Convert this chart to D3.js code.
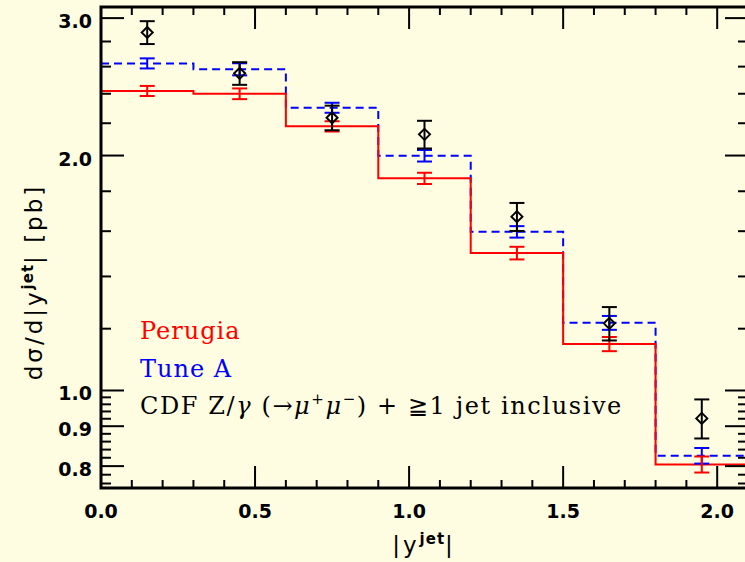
<!DOCTYPE html>
<html><head><meta charset="utf-8">
<script src="https://cdn.jsdelivr.net/npm/d3@7"></script>
<style>
html,body{margin:0;padding:0;background:#fffde1;}
svg{display:block;}
</style></head>
<body>
<svg id="chart" width="745" height="562"></svg>
<script>
// ---- data ----
const binEdges = [0.0, 0.3, 0.6, 0.9, 1.2, 1.5, 1.8, 2.1];
const binCenters = [0.15, 0.45, 0.75, 1.05, 1.35, 1.65, 1.95];
const perugia    = [2.42, 2.40, 2.18, 1.87, 1.50, 1.147, 0.804];
const perugiaErr = [0.036, 0.038, 0.033, 0.031, 0.028, 0.024, 0.019];
const tuneA      = [2.625, 2.58, 2.303, 1.999, 1.597, 1.221, 0.825];
const tuneAErr   = [0.039, 0.046, 0.034, 0.034, 0.027, 0.025, 0.019];
const cdf        = [2.876, 2.549, 2.236, 2.129, 1.670, 1.219, 0.921];
const cdfErr     = [0.097, 0.085, 0.081, 0.087, 0.069, 0.060, 0.053];
const xMajor = [0.0, 0.5, 1.0, 1.5, 2.0];
const xMajorLabels = ["0.0", "0.5", "1.0", "1.5", "2.0"];
const xMinor = [0.1,0.2,0.3,0.4,0.6,0.7,0.8,0.9,1.1,1.2,1.3,1.4,1.6,1.7,1.8,1.9,2.1];
const yMajor = [0.8, 0.9, 1.0, 2.0, 3.0];
const yMajorLabels = ["0.8", "0.9", "1.0", "2.0", "3.0"];
const yMinor = [0.76,0.78,0.82,0.84,0.86,0.88,0.92,0.94,0.96,0.98,1.2,1.4,1.6,1.8,2.2,2.4,2.6,2.8];
const legendItems = ["Perugia", "Tune A"];

// ---- layout ----
const L = 101, R = 748, T = 7, B = 488;
const svg = d3.select("#chart");
svg.append("rect").attr("width",745).attr("height",562).attr("fill","#fffde1");

const x = d3.scaleLinear().domain([0, 2.1]).range([L, R]);
const y = d3.scaleLog().domain([0.75, 3.1]).range([B, T]);

svg.append("defs").append("clipPath").attr("id","clip")
  .append("rect").attr("x",L).attr("y",T).attr("width",R-L).attr("height",B-T);

const plot = svg.append("g").attr("clip-path","url(#clip)");

function stepPts(vals){
  const pts = vals.map((v,i)=>[binEdges[i], v]);
  pts.push([binEdges[binEdges.length-1], vals[vals.length-1]]);
  return pts;
}
const stepLine = d3.line().x(d=>x(d[0])).y(d=>y(d[1])).curve(d3.curveStepAfter);

// Tune A dashed
plot.append("path").attr("d", stepLine(stepPts(tuneA)))
  .attr("fill","none").attr("stroke","#0000ff").attr("stroke-width",2)
  .attr("stroke-dasharray","8,5");
// Perugia solid
plot.append("path").attr("d", stepLine(stepPts(perugia)))
  .attr("fill","none").attr("stroke","#ff0000").attr("stroke-width",2);

function errBars(vals, errs, color, capW){
  const g = plot.append("g").attr("stroke",color).attr("stroke-width",2).attr("fill","none");
  vals.forEach((v,i)=>{
    const cx = x(binCenters[i]);
    const y1 = y(v+errs[i]), y2 = y(v-errs[i]);
    g.append("line").attr("x1",cx).attr("x2",cx).attr("y1",y1).attr("y2",y2);
    g.append("line").attr("x1",cx-capW).attr("x2",cx+capW).attr("y1",y1).attr("y2",y1);
    g.append("line").attr("x1",cx-capW).attr("x2",cx+capW).attr("y1",y2).attr("y2",y2);
  });
}
errBars(tuneA, tuneAErr, "#0000ff", 7.5);
errBars(perugia, perugiaErr, "#ff0000", 7.5);
errBars(cdf, cdfErr, "#000000", 7.5);
// diamonds
plot.append("g").selectAll("path").data(cdf).join("path")
  .attr("d",(d,i)=>{const cx=x(binCenters[i]), cy=y(d), s=5.5;
     return `M${cx},${cy-s}L${cx+s},${cy}L${cx},${cy+s}L${cx-s},${cy}Z`;})
  .attr("fill","none").attr("stroke","#000").attr("stroke-width",2);

// ---- axes ----
const ax = svg.append("g").attr("stroke","#000");
ax.append("rect").attr("x",L).attr("y",T).attr("width",R-L).attr("height",B-T)
  .attr("fill","none").attr("stroke-width",3);
const tk = svg.append("g").attr("stroke","#000").attr("stroke-width",2);
xMajor.forEach(v=>{
  tk.append("line").attr("x1",x(v)).attr("x2",x(v)).attr("y1",B).attr("y2",B-22);
  tk.append("line").attr("x1",x(v)).attr("x2",x(v)).attr("y1",T).attr("y2",T+22);
});
xMinor.forEach(v=>{
  tk.append("line").attr("x1",x(v)).attr("x2",x(v)).attr("y1",B).attr("y2",B-8);
  tk.append("line").attr("x1",x(v)).attr("x2",x(v)).attr("y1",T).attr("y2",T+8);
});
yMajor.forEach(v=>{
  tk.append("line").attr("x1",L).attr("x2",L+23).attr("y1",y(v)).attr("y2",y(v));
  tk.append("line").attr("x1",R).attr("x2",R-23).attr("y1",y(v)).attr("y2",y(v));
});
yMinor.forEach(v=>{
  tk.append("line").attr("x1",L).attr("x2",L+10).attr("y1",y(v)).attr("y2",y(v));
  tk.append("line").attr("x1",R).attr("x2",R-10).attr("y1",y(v)).attr("y2",y(v));
});

const lblFont = "'DejaVu Sans', sans-serif";
svg.append("g").selectAll("text").data(xMajor).join("text")
  .attr("x",d=>x(d)).attr("y",518).attr("text-anchor","middle")
  .attr("font-family",lblFont).attr("font-weight","bold").attr("font-size",19)
  .text((d,i)=>xMajorLabels[i]);
svg.append("g").selectAll("text").data(yMajor).join("text")
  .attr("x",92).attr("y",d=>y(d)+10).attr("text-anchor","end")
  .attr("font-family",lblFont).attr("font-weight","bold").attr("font-size",19)
  .text((d,i)=>yMajorLabels[i]);

// axis titles
const yt = svg.append("text").attr("transform","translate(42,282) rotate(-90)")
  .attr("text-anchor","middle").attr("font-family",lblFont).attr("font-size",23)
  .attr("letter-spacing",3);
yt.append("tspan").text("dσ/d|y");
yt.append("tspan").attr("font-size",15).attr("font-weight","bold").attr("letter-spacing",1).attr("dy",-9).text("jet");
yt.append("tspan").attr("dy",9).text("| [pb]");

const xt = svg.append("text").attr("x",424).attr("y",553)
  .attr("text-anchor","middle").attr("font-family",lblFont).attr("font-size",23)
  .attr("letter-spacing",3);
xt.append("tspan").text("|y");
xt.append("tspan").attr("font-size",15).attr("font-weight","bold").attr("letter-spacing",1).attr("dy",-9).text("jet");
xt.append("tspan").attr("dy",9).text("|");

// legend
const legFont = "'DejaVu Serif', serif";
const legColors = ["#ff0000", "#0000ff"];
svg.append("g").selectAll("text").data(legendItems).join("text")
  .attr("x",140).attr("y",(d,i)=>339 + i*38)
  .attr("font-family",legFont).attr("font-size",24).attr("letter-spacing",1)
  .attr("fill",(d,i)=>legColors[i]).text(d=>d);
const ct = svg.append("text").attr("x",140).attr("y",414)
  .attr("font-family",legFont).attr("font-size",24).attr("letter-spacing",1.6).attr("fill","#000");
ct.append("tspan").text("CDF Z/");
ct.append("tspan").attr("font-style","italic").text("γ");
ct.append("tspan").text(" (→");
ct.append("tspan").attr("font-style","italic").text("μ");
ct.append("tspan").attr("font-size",15).attr("dy",-10).text("+");
ct.append("tspan").attr("dy",10).attr("font-style","italic").text("μ");
ct.append("tspan").attr("font-size",15).attr("dy",-10).text("−");
ct.append("tspan").attr("dy",10).text(") + ≧1 jet inclusive");
</script>
</body></html>
